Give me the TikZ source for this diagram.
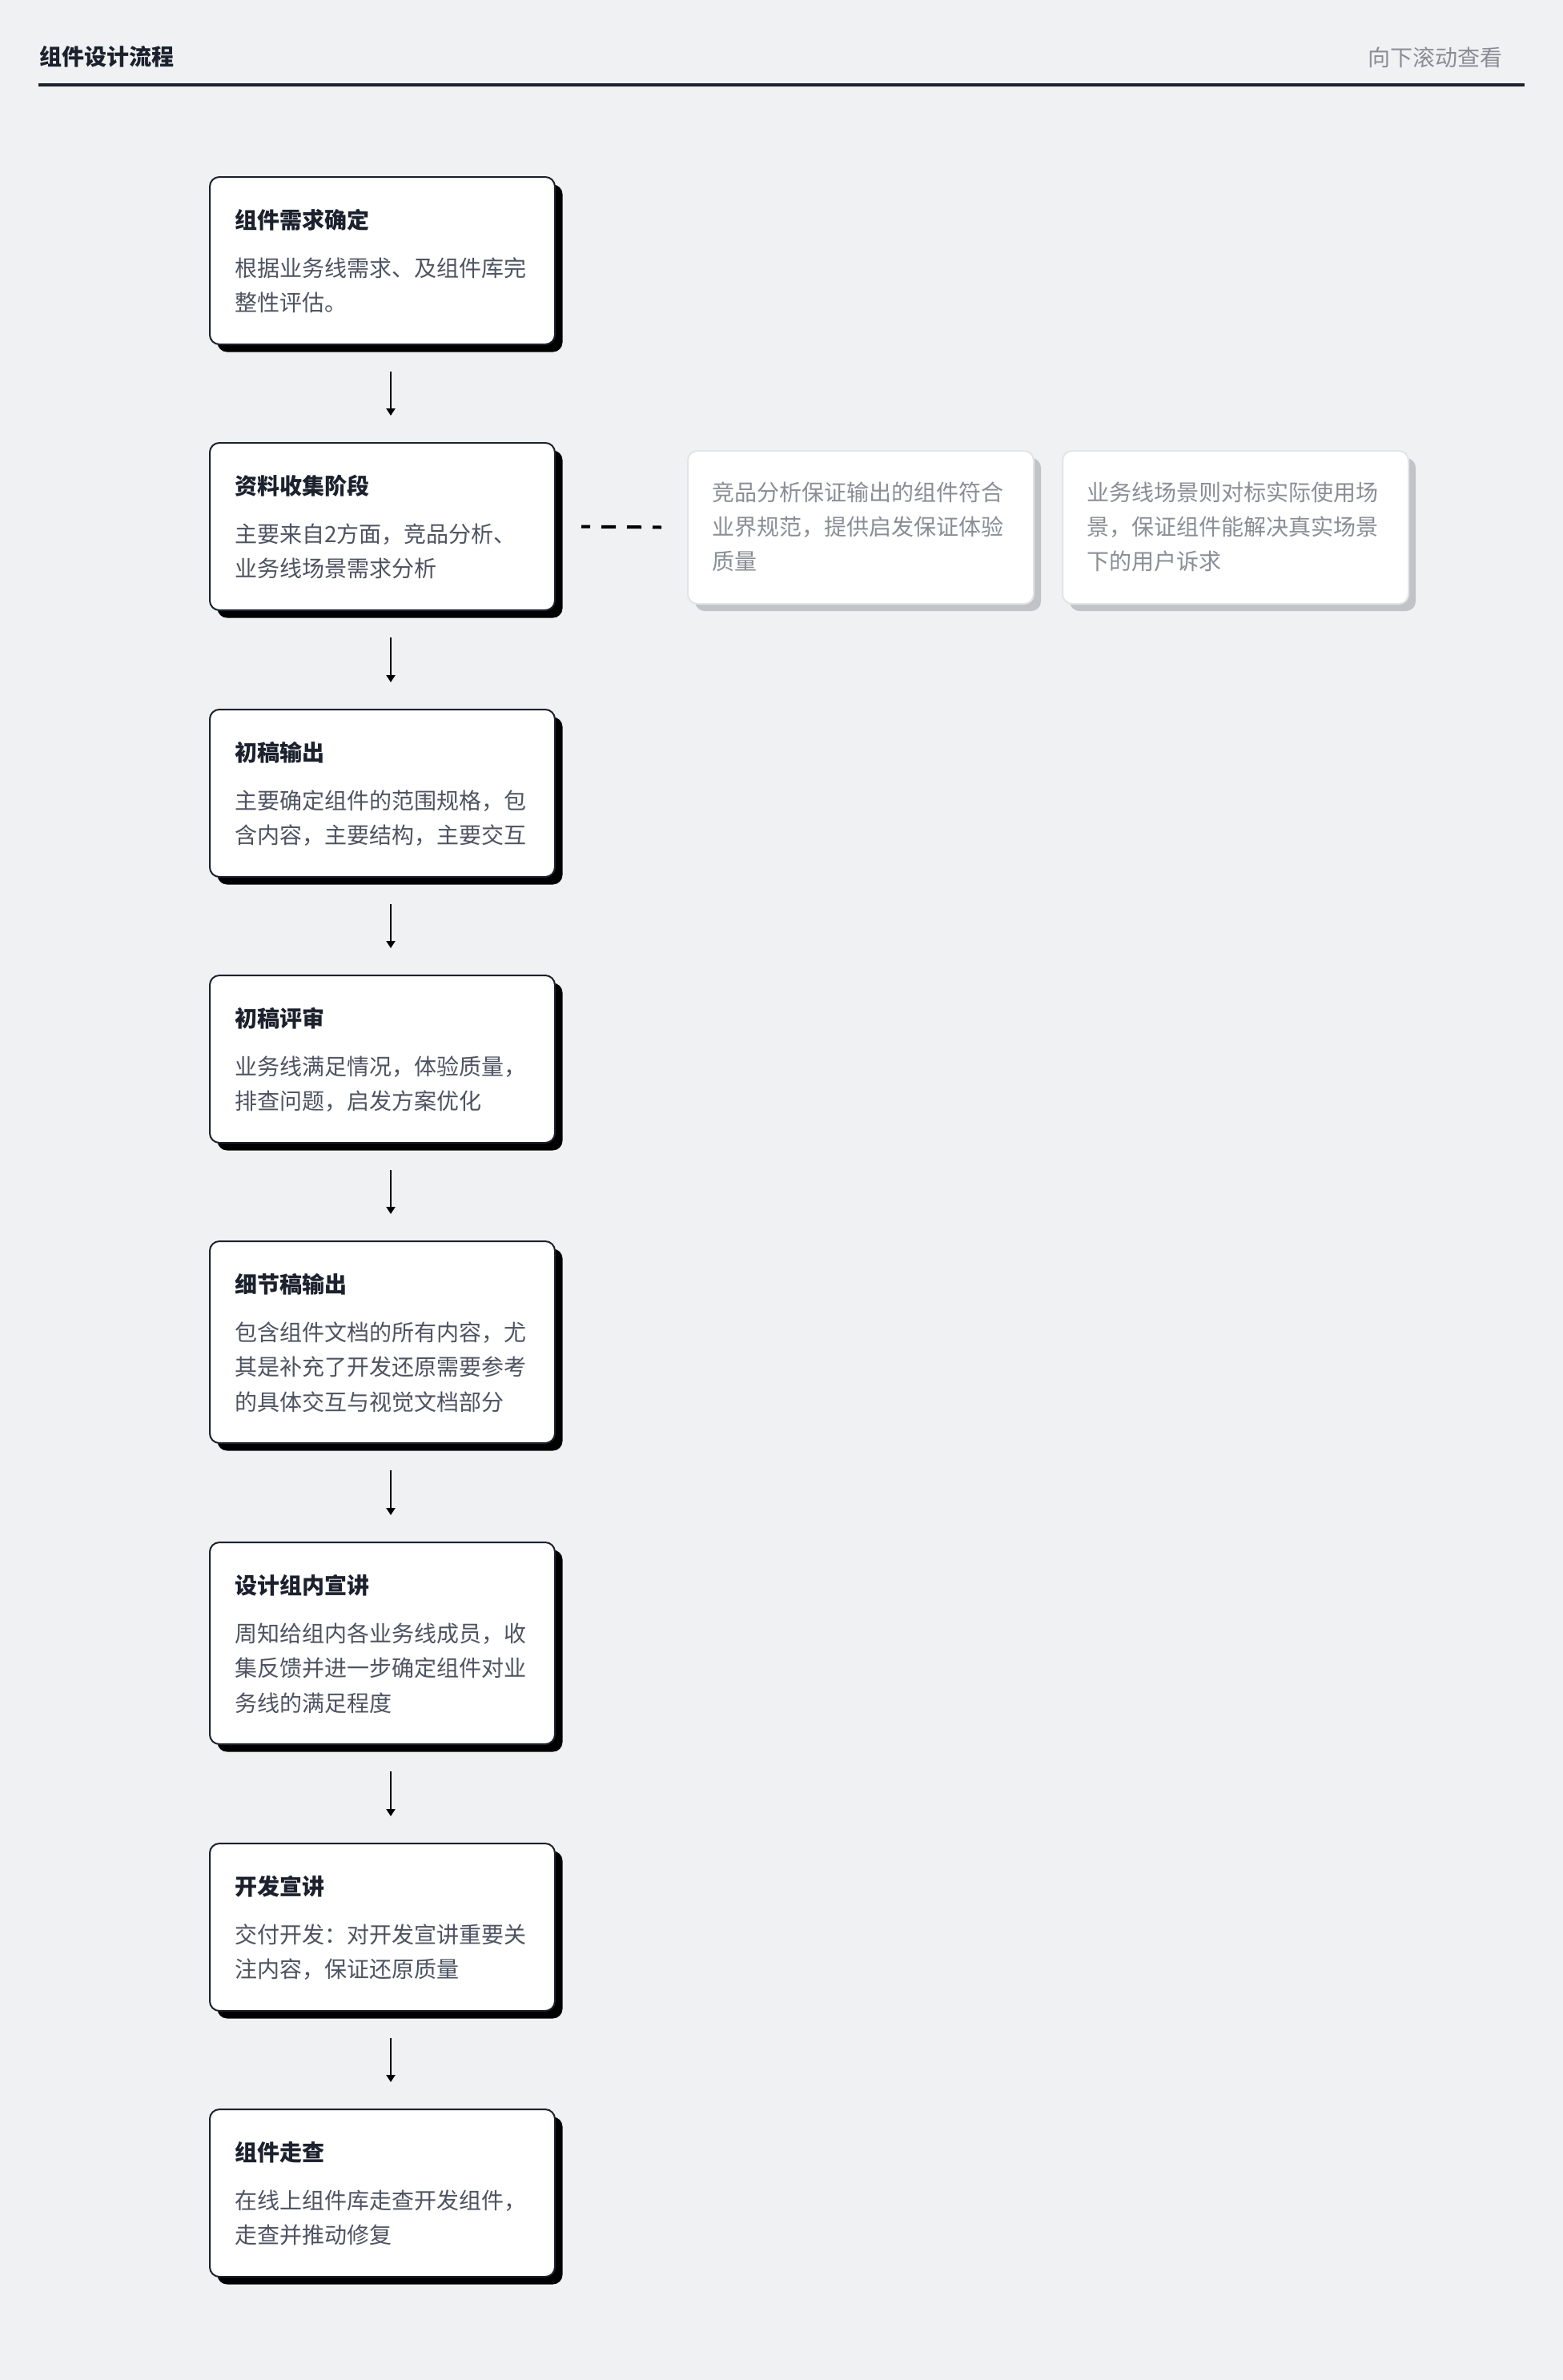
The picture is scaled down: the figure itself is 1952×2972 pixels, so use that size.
\documentclass[tikz,border=0pt]{standalone}
\usepackage{fontspec}
\setmainfont{Noto Sans CJK SC}
\usetikzlibrary{shadows,arrows.meta,calc}
\definecolor{bg}{RGB}{240,241,243}
\definecolor{ink}{RGB}{28,33,46}
\definecolor{desc}{RGB}{78,83,98}
\definecolor{sidetext}{RGB}{138,141,150}
\definecolor{sideshadow}{RGB}{193,195,199}
\definecolor{sideborder}{RGB}{226,228,232}
\begin{document}
\begin{tikzpicture}[x=0.5pt,y=-0.5pt,
  mainbox/.style={draw=ink, line width=1pt, fill=white, rounded corners=6pt,
    minimum width=215.5pt, inner sep=0pt, outer sep=0pt, anchor=north west,
    drop shadow={shadow xshift=4.75pt, shadow yshift=-4.75pt, opacity=1, fill=black}},
  twoline/.style={minimum height=104.5pt},
  threeline/.style={minimum height=126pt},
  ttl/.style={anchor=base west, inner sep=0pt, text=ink, font=\fontsize{14pt}{16pt}\selectfont\bfseries},
  dsc/.style={anchor=base west, inner sep=0pt, align=left, text=desc, font=\fontsize{14pt}{21.75pt}\selectfont},
  sidebox/.style={draw=sideborder, line width=1pt, fill=white, rounded corners=6pt,
    minimum width=216pt, minimum height=95.5pt, inner sep=0pt, outer sep=0pt, anchor=north west,
    drop shadow={shadow xshift=4.5pt, shadow yshift=-4.5pt, opacity=1, fill=sideshadow}},
  sdsc/.style={anchor=base west, inner sep=0pt, align=left, text=sidetext, font=\fontsize{14pt}{21.5pt}\selectfont},
  arr/.style={draw=black, line width=1pt, -{Triangle[length=4.5pt,width=5.5pt]}},
  dashlink/.style={draw=black, line width=2pt, dash pattern=on 9pt off 7pt, dash phase=3.5pt},
]
\useasboundingbox (0,0) rectangle (1952,2972);
\fill[bg] (0,0) rectangle (1952,2972);

% header
\node[ttl] (head) at (49,81) {组件设计流程};
\node[anchor=base east, inner sep=0pt, text=sidetext, font=\fontsize{14pt}{16pt}\selectfont] (scroll) at (1877,82) {向下滚动查看};
\coordinate (hl1) at (48,105.5);
\coordinate (hl2) at (1904,105.5);
\draw[ink, line width=2pt] (hl1) -- (hl2);

% main boxes
\node[mainbox, twoline] (b1) at (262,221) {};
\node[mainbox, twoline] (b2) at (262,553) {};
\node[mainbox, twoline] (b3) at (262,886) {};
\node[mainbox, twoline] (b4) at (262,1218) {};
\node[mainbox, threeline] (b5) at (262,1550) {};
\node[mainbox, threeline] (b6) at (262,1926) {};
\node[mainbox, twoline] (b7) at (262,2302) {};
\node[mainbox, twoline] (b8) at (262,2634) {};

% titles (baseline) and descriptions (anchored at baseline of last line)
\node[ttl] (t1) at ($(b1.north west)+(31,64)$) {组件需求确定};
\node[dsc] (d1) at ($(b1.north west)+(31,167.5)$) {根据业务线需求、及组件库完\\整性评估。};
\node[ttl] (t2) at ($(b2.north west)+(31,64)$) {资料收集阶段};
\node[dsc] (d2) at ($(b2.north west)+(31,167.5)$) {主要来自2方面，竞品分析、\\业务线场景需求分析};
\node[ttl] (t3) at ($(b3.north west)+(31,64)$) {初稿输出};
\node[dsc] (d3) at ($(b3.north west)+(31,167.5)$) {主要确定组件的范围规格，包\\含内容，主要结构，主要交互};
\node[ttl] (t4) at ($(b4.north west)+(31,64)$) {初稿评审};
\node[dsc] (d4) at ($(b4.north west)+(31,167.5)$) {业务线满足情况，体验质量，\\排查问题，启发方案优化};
\node[ttl] (t5) at ($(b5.north west)+(31,64)$) {细节稿输出};
\node[dsc] (d5) at ($(b5.north west)+(31,211)$) {包含组件文档的所有内容，尤\\其是补充了开发还原需要参考\\的具体交互与视觉文档部分};
\node[ttl] (t6) at ($(b6.north west)+(31,64)$) {设计组内宣讲};
\node[dsc] (d6) at ($(b6.north west)+(31,211)$) {周知给组内各业务线成员，收\\集反馈并进一步确定组件对业\\务线的满足程度};
\node[ttl] (t7) at ($(b7.north west)+(31,64)$) {开发宣讲};
\node[dsc] (d7) at ($(b7.north west)+(31,167.5)$) {交付开发：对开发宣讲重要关\\注内容，保证还原质量};
\node[ttl] (t8) at ($(b8.north west)+(31,64)$) {组件走查};
\node[dsc] (d8) at ($(b8.north west)+(31,167.5)$) {在线上组件库走查开发组件，\\走查并推动修复};

% side boxes
\node[sidebox] (sA) at (859,563) {};
\node[sidebox] (sB) at (1327,563) {};
\node[sdsc] (sa) at ($(sA.north west)+(30,148)$) {竞品分析保证输出的组件符合\\业界规范，提供启发保证体验\\质量};
\node[sdsc] (sb) at ($(sB.north west)+(30,148)$) {业务线场景则对标实际使用场\\景，保证组件能解决真实场景\\下的用户诉求};

% connectors
\foreach \a/\b in {b1/b2,b2/b3,b3/b4,b4/b5,b5/b6,b6/b7,b7/b8}{
  \draw[arr] ([xshift=5.25pt,yshift=-17pt]\a.south) -- ([xshift=5.25pt,yshift=17pt]\b.north);
}
\draw[dashlink] ([xshift=16.5pt]b2.east) -- ([xshift=-16.5pt]sA.west);
\end{tikzpicture}
\end{document}
